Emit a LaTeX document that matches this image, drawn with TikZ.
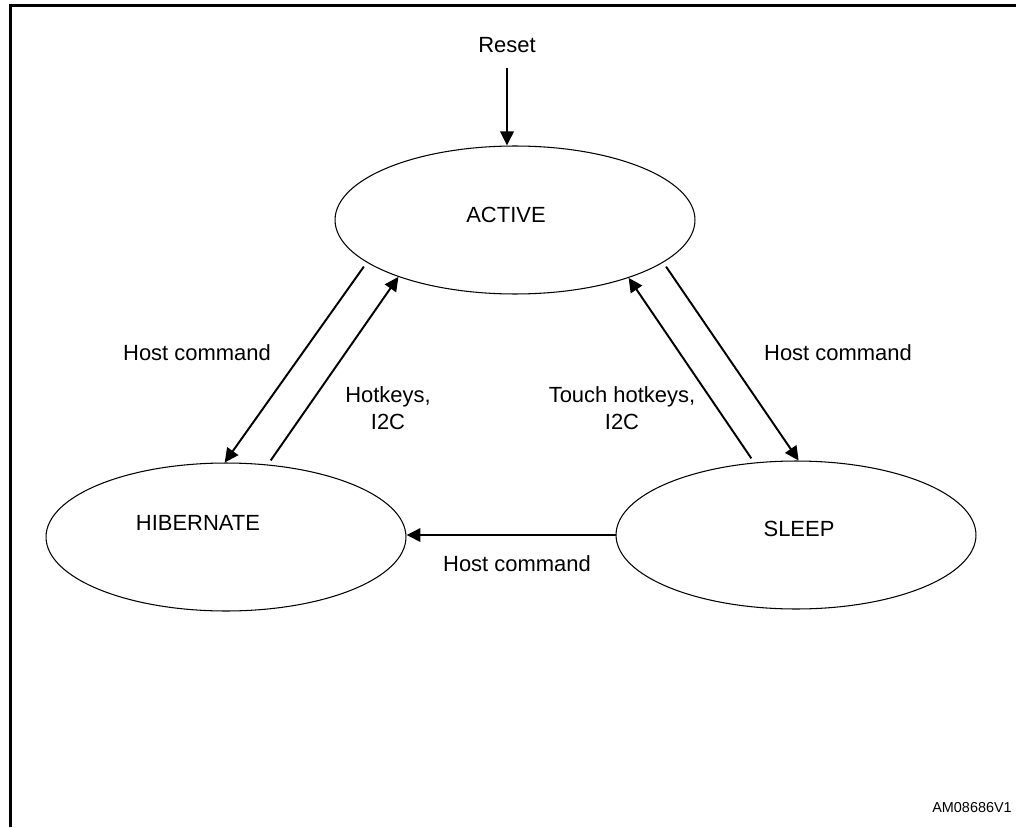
\documentclass[tikz,border=0pt]{standalone}
\usepackage{fontspec}
\setmainfont{Liberation Sans}
\usetikzlibrary{shapes.geometric,arrows.meta}

\begin{document}
\begin{tikzpicture}[x=0.02cm, y=-0.02cm,
  state/.style={draw, ellipse, line width=0.6pt, minimum width=7.2cm, minimum height=2.96cm, inner sep=0pt},
  txt/.style={font=\fontsize{12.5}{15.3}\selectfont, align=center, inner sep=0pt},
  conn/.style={line width=1.1pt, -{Triangle[length=0.28cm,width=0.27cm]}, shorten <=0.1cm}]
% Page size and frame
\useasboundingbox (0,0) rectangle (1016,827);
\draw[line width=0.06cm] (10.5,827) -- (10.5,5.5) -- (1016,5.5);

% The three states
\node[state] (active) at (515,220) {};
\node[txt] (activetxt) at (506,215) {ACTIVE};
\node[state] (hib) at (226,537) {};
\node[txt] (hibtxt) at (198,523) {HIBERNATE};
\node[state] (sleep) at (796,535) {};
\node[txt] (sleeptxt) at (799,529) {SLEEP};

% Reset
\node[txt] (reset) at (507,45) {Reset};
\draw[conn, shorten <=0.3cm] (reset) -- (reset |- active.north);

% Transitions
\draw[conn] (active.196) -- (hib.91);
\draw[conn] (hib.60) -- (active.206);
\draw[conn] (sleep.120) -- (active.333);
\draw[conn] (active.344) -- (sleep.88);
\draw[conn, shorten <=0pt] (sleep.west) -- (sleep.west -| hib.east);

% Labels
\node[txt] (hostleft) at (197,353) {Host command};
\node[txt] (hotkeys) at (388,408) {Hotkeys,\\I2C};
\node[txt] (touch) at (622,408) {Touch hotkeys,\\I2C};
\node[txt] (hostright) at (838,353) {Host command};
\node[txt] (hostbottom) at (517,564) {Host command};
\node[font=\fontsize{8.2}{10}\selectfont, inner sep=0pt] (figid) at (972,808) {AM08686V1};
\end{tikzpicture}
\end{document}
